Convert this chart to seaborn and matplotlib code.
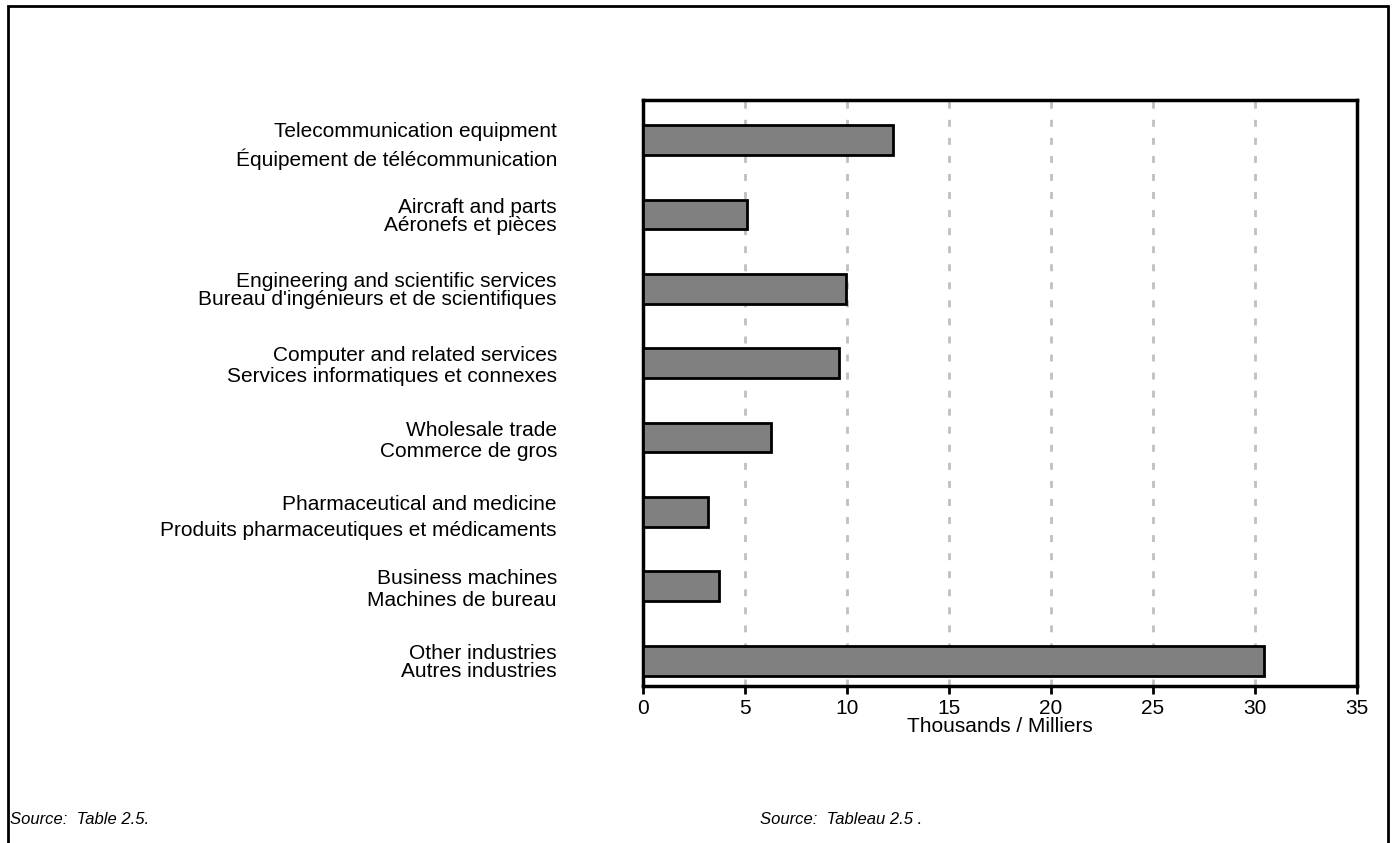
import matplotlib
matplotlib.use("Agg")
import matplotlib.pyplot as plt
import seaborn as sns
import pandas as pd
from matplotlib.patches import Rectangle

sns.set_style("white")
plt.rcParams['font.family'] = ['Liberation Sans', 'DejaVu Sans']
plt.rcParams['text.color'] = 'black'
plt.rcParams['axes.labelcolor'] = 'black'
plt.rcParams['xtick.color'] = 'black'
plt.rcParams['ytick.color'] = 'black'

english = ["Telecommunication equipment", "Aircraft and parts",
           "Engineering and scientific services", "Computer and related services",
           "Wholesale trade", "Pharmaceutical and medicine",
           "Business machines", "Other industries"]
french = ["Équipement de télécommunication", "Aéronefs et pièces",
          "Bureau d'ingénieurs et de scientifiques", "Services informatiques et connexes",
          "Commerce de gros", "Produits pharmaceutiques et médicaments",
          "Machines de bureau", "Autres industries"]
values = [12.27, 5.1, 9.95, 9.63, 6.29, 3.19, 3.71, 30.42]
xticks = [0, 5, 10, 15, 20, 25, 30, 35]
xlabel = "Thousands / Milliers"
source_en = "Source:  Table 2.5."
source_fr = "Source:  Tableau 2.5 ."

labels = [f"{e}\n{f}" for e, f in zip(english, french)]
df = pd.DataFrame({"label": labels, "value": values})

fig = plt.figure(figsize=(13.93, 8.43), dpi=100)
ax = fig.add_axes([643 / 1393, 1 - 686 / 843, (1357 - 643) / 1393, (686 - 100) / 843])

sns.barplot(data=df, x="value", y="label", orient="h", color="#808080",
            saturation=1, edgecolor="black", linewidth=2, width=0.4, ax=ax, zorder=3)

ax.set_xlim(0, 35)
ax.set_ylim(7.34, -0.54)
ax.set_xticks(xticks)
ax.set_xticklabels([str(t) for t in xticks], fontsize=15)
for t in xticks[1:-1]:
    ax.axvline(t, color="#c0c0c0", linestyle=(0, (2.5, 4)), linewidth=2, zorder=1)

ax.set_xlabel(xlabel, fontsize=15, labelpad=0)
ax.set_ylabel("")
ax.tick_params(axis="x", direction="out", length=6, width=2, pad=3, bottom=True)
ax.tick_params(axis="y", length=0, pad=62, labelsize=15)
spacings = [1.45, 0.95, 0.95, 1.1, 1.15, 1.45, 1.15, 0.95]
for lab, ls in zip(ax.get_yticklabels(), spacings):
    lab.set_linespacing(ls)
    lab.set_multialignment("right")
for s in ax.spines.values():
    s.set_visible(True)
    s.set_color("black")
    s.set_linewidth(2.5)

fig.text(10 / 1393, 1 - 820 / 843, source_en, style="italic", fontsize=12, va="center")
fig.text(760 / 1393, 1 - 820 / 843, source_fr, style="italic", fontsize=12, va="center")

fig.patches.append(Rectangle((8 / 1393, -0.05), (1388 - 8) / 1393, 1.05 - 6 / 843,
                             transform=fig.transFigure, fill=False,
                             edgecolor="black", linewidth=2, figure=fig))

fig.savefig("out.png", dpi=100)
